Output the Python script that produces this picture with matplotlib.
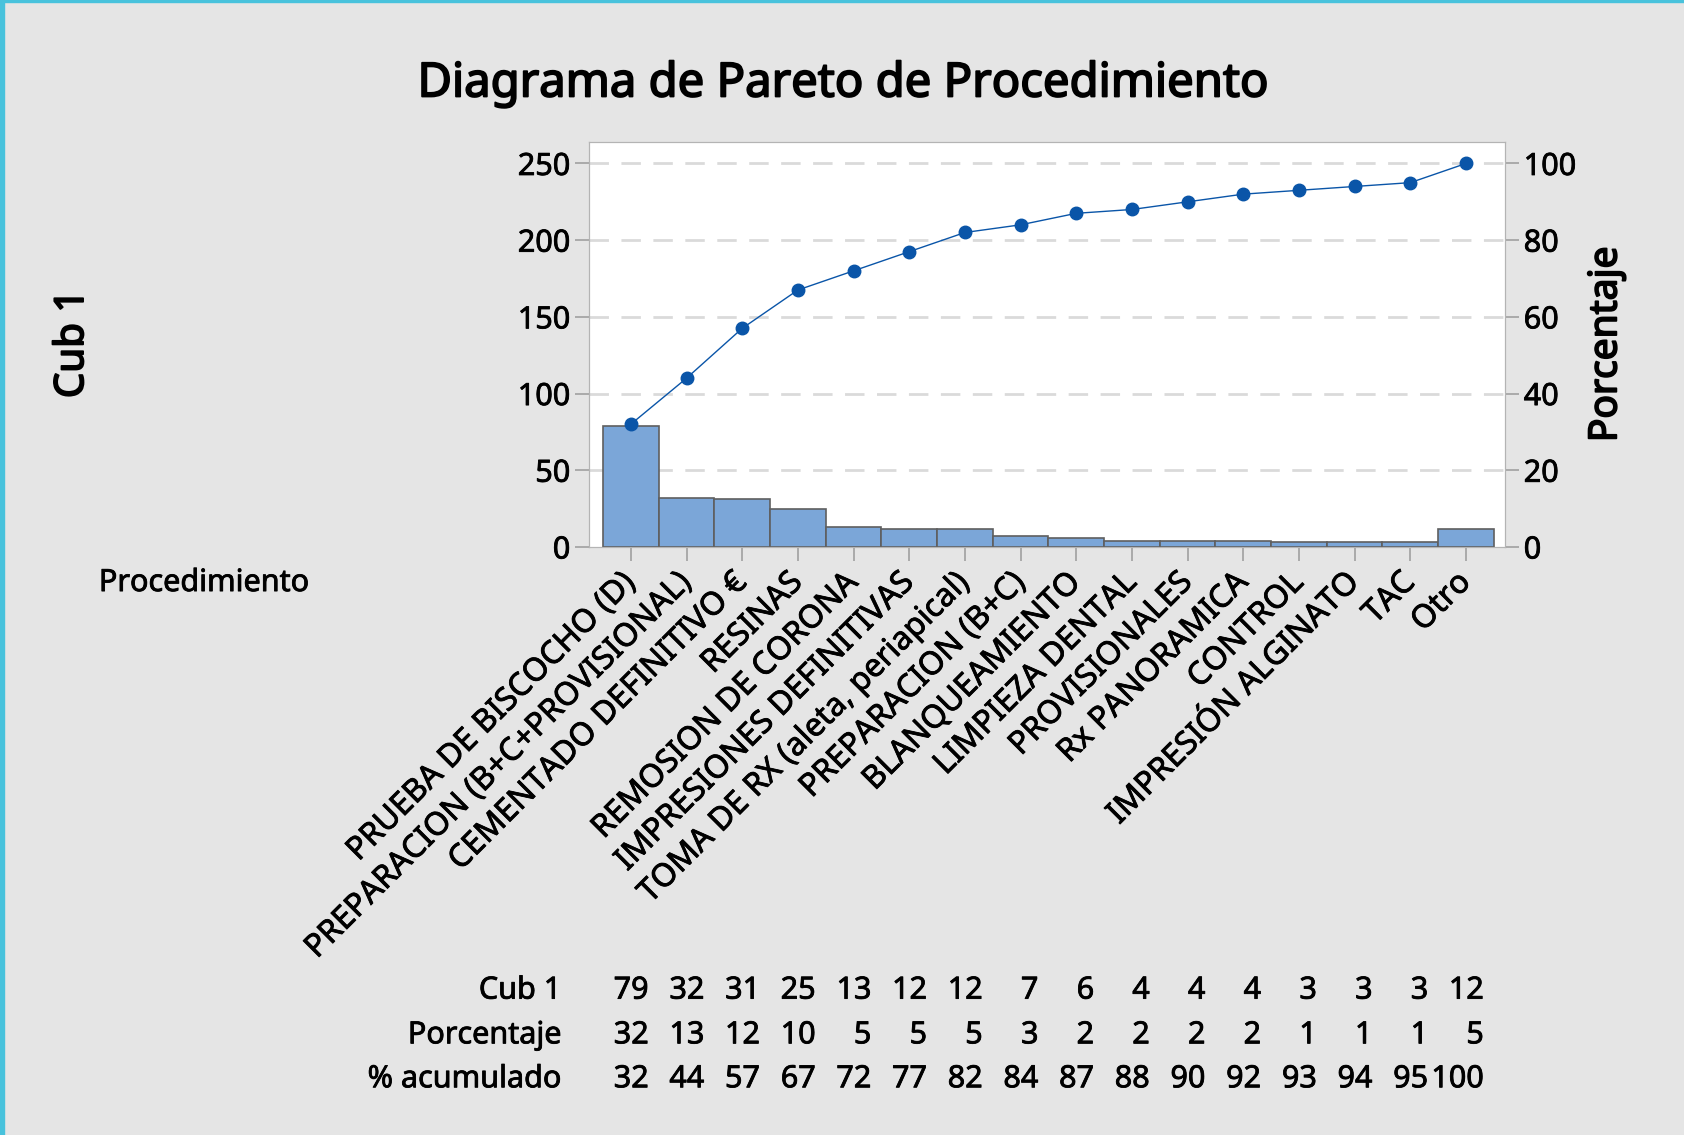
import matplotlib.pyplot as plt
import matplotlib.transforms as mtransforms
import matplotlib.patheffects as pe
from matplotlib.patches import Rectangle
from matplotlib.text import Text

plt.rcParams['font.family'] = ['Noto Sans', 'DejaVu Sans']

# Datos
categorias = ['PRUEBA DE BISCOCHO (D)', 'PREPARACION (B+C+PROVISIONAL)',
              'CEMENTADO DEFINITIVO €', 'RESINAS', 'REMOSION DE CORONA',
              'IMPRESIONES DEFINITIVAS', 'TOMA DE RX (aleta, periapical)',
              'PREPARACION (B+C)', 'BLANQUEAMIENTO', 'LIMPIEZA DENTAL',
              'PROVISIONALES', 'Rx PANORAMICA', 'CONTROL',
              'IMPRESIÓN ALGINATO', 'TAC', 'Otro']
cub1 = [79, 32, 31, 25, 13, 12, 12, 7, 6, 4, 4, 4, 3, 3, 3, 12]
porcentaje = [32, 13, 12, 10, 5, 5, 5, 3, 2, 2, 2, 2, 1, 1, 1, 5]
acumulado = [32, 44, 57, 67, 72, 77, 82, 84, 87, 88, 90, 92, 93, 94, 95, 100]

fondo = '#e5e5e5'
fig = plt.figure(figsize=(16.84, 11.35), dpi=100, facecolor=fondo)
ax = fig.add_axes([0.3498, 0.5181, 0.5439, 0.3568])
ax.set_facecolor('white')

x = list(range(len(categorias)))
ax.bar(x, cub1, width=1.0, color='#7ba6d8', edgecolor='#5f5f5f', linewidth=1.2, zorder=3)
ax.set_xlim(-0.75, 15.7)
ax.set_ylim(0, 264)
ax.set_yticks([0, 50, 100, 150, 200, 250])
ax.set_xticks(x)
ax.set_xticklabels(categorias, rotation=45, ha='right', rotation_mode='anchor', va='center')
for y in [50, 100, 150, 200, 250]:
    ax.axhline(y, color='#dadada', lw=2, dashes=(7, 4.5), zorder=1)

ax2 = ax.twinx()
ax2.set_ylim(0, 105.6)
ax2.set_yticks([0, 20, 40, 60, 80, 100])
ax2.plot(x, acumulado, color='#0a55a8', lw=1, marker='o', markersize=9, zorder=4)
ylab2 = ax2.set_ylabel('Porcentaje', fontsize=28, labelpad=8)

for a in (ax, ax2):
    for s in a.spines.values():
        s.set_color('#b4b4b4')
    a.tick_params(colors='#a0a0a0', labelcolor='black', labelsize=22, length=10, width=1.2)
ax.tick_params(axis='x', labelsize=23, pad=12)

titulo = fig.text(0.5006, 0.926, 'Diagrama de Pareto de Procedimiento', ha='center',
                  va='center', fontsize=34)
ylab1 = fig.text(0.0434, 0.697, 'Cub 1', rotation=90, ha='center', va='center', fontsize=29)
fig.text(0.121, 0.4863, 'Procedimiento', ha='center', va='center', fontsize=22)

# Tabla inferior
trans = mtransforms.blended_transform_factory(ax.transData, fig.transFigure)
filas = [('Cub 1', cub1, 0.1272), ('Porcentaje', porcentaje, 0.0878),
         ('% acumulado', acumulado, 0.0491)]
for nombre, valores, yf in filas:
    ax.text(-1.25, yf, nombre, transform=trans, ha='right', va='center', fontsize=22)
    for i, v in enumerate(valores):
        ax.text(i + 0.32, yf, str(v), transform=trans, ha='right', va='center', fontsize=22)

# texto algo mas grueso, como en el original
for t in fig.findobj(Text):
    t.set_path_effects([pe.withStroke(linewidth=0.6, foreground='black')])
for t in (titulo, ylab1, ylab2):
    t.set_path_effects([pe.withStroke(linewidth=1.3, foreground='black')])

# Borde del marco
fig.patches.append(Rectangle((0, 0), 0.0026, 1, transform=fig.transFigure, color='#48c2dc'))
fig.patches.append(Rectangle((0, 0.998), 1, 0.002, transform=fig.transFigure, color='#48c2dc'))

plt.savefig('out.png', dpi=100, facecolor=fondo)
